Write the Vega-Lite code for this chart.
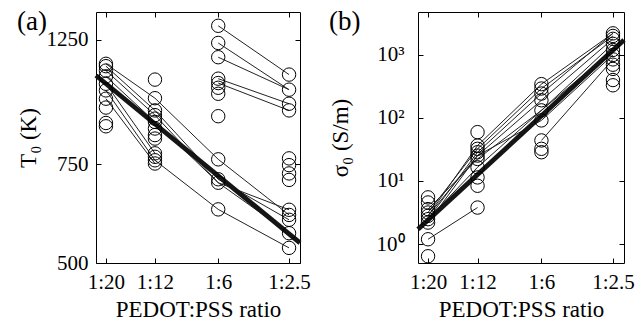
{
  "$schema": "https://vega.github.io/schema/vega-lite/v6.json",
  "background": "white",
  "padding": {"left": 16, "top": 7, "right": 0, "bottom": 0},
  "spacing": 17,
  "config": {
    "font": "Liberation Serif, Times New Roman, serif",
    "view": {"stroke": "black", "strokeWidth": 1},
    "axis": {
      "labelFont": "Liberation Serif, Times New Roman, serif", "labelFontSize": 21, "labelColor": "black",
      "titleFont": "Liberation Serif, Times New Roman, serif", "titleFontSize": 23, "titleFontWeight": "normal", "titleColor": "black",
      "grid": false, "domain": false, "tickColor": "black", "tickSize": -5, "labelPadding": 13,
      "labelFlush": false, "labelOverlap": false, "titlePadding": 6
    },
    "title": {"font": "Liberation Serif, Times New Roman, serif", "fontSize": 27, "fontWeight": "normal", "anchor": "start", "frame": "bounds", "color": "black"}
  },
  "datasets": {
    "a_pts": [
      {"ratio": "1:20", "x": 0.047619, "T0": 1132}, {"ratio": "1:20", "x": 0.047619, "T0": 1121}, {"ratio": "1:20", "x": 0.047619, "T0": 1101},
      {"ratio": "1:20", "x": 0.047619, "T0": 1075}, {"ratio": "1:20", "x": 0.047619, "T0": 1043}, {"ratio": "1:20", "x": 0.047619, "T0": 1015},
      {"ratio": "1:20", "x": 0.047619, "T0": 981}, {"ratio": "1:20", "x": 0.047619, "T0": 946}, {"ratio": "1:20", "x": 0.047619, "T0": 888},
      {"ratio": "1:20", "x": 0.047619, "T0": 876},
      {"ratio": "1:12", "x": 0.076923, "T0": 1061}, {"ratio": "1:12", "x": 0.076923, "T0": 983}, {"ratio": "1:12", "x": 0.076923, "T0": 935},
      {"ratio": "1:12", "x": 0.076923, "T0": 917}, {"ratio": "1:12", "x": 0.076923, "T0": 904}, {"ratio": "1:12", "x": 0.076923, "T0": 892},
      {"ratio": "1:12", "x": 0.076923, "T0": 868}, {"ratio": "1:12", "x": 0.076923, "T0": 845}, {"ratio": "1:12", "x": 0.076923, "T0": 833},
      {"ratio": "1:12", "x": 0.076923, "T0": 784}, {"ratio": "1:12", "x": 0.076923, "T0": 773}, {"ratio": "1:12", "x": 0.076923, "T0": 762},
      {"ratio": "1:12", "x": 0.076923, "T0": 752},
      {"ratio": "1:6", "x": 0.142857, "T0": 1323}, {"ratio": "1:6", "x": 0.142857, "T0": 1233}, {"ratio": "1:6", "x": 0.142857, "T0": 1163},
      {"ratio": "1:6", "x": 0.142857, "T0": 1065}, {"ratio": "1:6", "x": 0.142857, "T0": 1046}, {"ratio": "1:6", "x": 0.142857, "T0": 1026},
      {"ratio": "1:6", "x": 0.142857, "T0": 1001}, {"ratio": "1:6", "x": 0.142857, "T0": 913}, {"ratio": "1:6", "x": 0.142857, "T0": 765},
      {"ratio": "1:6", "x": 0.142857, "T0": 705}, {"ratio": "1:6", "x": 0.142857, "T0": 695}, {"ratio": "1:6", "x": 0.142857, "T0": 623},
      {"ratio": "1:2.5", "x": 0.285714, "T0": 1083}, {"ratio": "1:2.5", "x": 0.285714, "T0": 1018}, {"ratio": "1:2.5", "x": 0.285714, "T0": 961},
      {"ratio": "1:2.5", "x": 0.285714, "T0": 935}, {"ratio": "1:2.5", "x": 0.285714, "T0": 768}, {"ratio": "1:2.5", "x": 0.285714, "T0": 747},
      {"ratio": "1:2.5", "x": 0.285714, "T0": 722}, {"ratio": "1:2.5", "x": 0.285714, "T0": 703}, {"ratio": "1:2.5", "x": 0.285714, "T0": 622},
      {"ratio": "1:2.5", "x": 0.285714, "T0": 609}, {"ratio": "1:2.5", "x": 0.285714, "T0": 597}, {"ratio": "1:2.5", "x": 0.285714, "T0": 565},
      {"ratio": "1:2.5", "x": 0.285714, "T0": 532}
    ],
    "a_lines": [
      {"series": "L1", "x": 0.047619, "T0": 1132}, {"series": "L1", "x": 0.076923, "T0": 983}, {"series": "L1", "x": 0.142857, "T0": 765}, {"series": "L1", "x": 0.285714, "T0": 609},
      {"series": "L2", "x": 0.047619, "T0": 1121}, {"series": "L2", "x": 0.076923, "T0": 935}, {"series": "L2", "x": 0.142857, "T0": 705}, {"series": "L2", "x": 0.285714, "T0": 597},
      {"series": "L3", "x": 0.047619, "T0": 1101}, {"series": "L3", "x": 0.076923, "T0": 917}, {"series": "L3", "x": 0.142857, "T0": 695}, {"series": "L3", "x": 0.285714, "T0": 565},
      {"series": "L4", "x": 0.047619, "T0": 1075}, {"series": "L4", "x": 0.076923, "T0": 892}, {"series": "L4", "x": 0.142857, "T0": 695}, {"series": "L4", "x": 0.285714, "T0": 622},
      {"series": "L5", "x": 0.047619, "T0": 1043}, {"series": "L5", "x": 0.076923, "T0": 784},
      {"series": "L6", "x": 0.047619, "T0": 1015}, {"series": "L6", "x": 0.076923, "T0": 762}, {"series": "L6", "x": 0.142857, "T0": 623}, {"series": "L6", "x": 0.285714, "T0": 532},
      {"series": "L7", "x": 0.047619, "T0": 981}, {"series": "L7", "x": 0.076923, "T0": 752},
      {"series": "L8", "x": 0.142857, "T0": 1323}, {"series": "L8", "x": 0.285714, "T0": 1083},
      {"series": "L9", "x": 0.142857, "T0": 1233}, {"series": "L9", "x": 0.285714, "T0": 1018},
      {"series": "L10", "x": 0.142857, "T0": 1163}, {"series": "L10", "x": 0.285714, "T0": 1018},
      {"series": "L11", "x": 0.142857, "T0": 1065}, {"series": "L11", "x": 0.285714, "T0": 961},
      {"series": "L12", "x": 0.142857, "T0": 1046}, {"series": "L12", "x": 0.285714, "T0": 935}
    ],
    "a_fit": [{"x": 0.0432, "T0": 1079}, {"x": 0.318, "T0": 543}],
    "b_pts": [
      {"ratio": "1:20", "x": 0.047619, "sigma0": 5.5}, {"ratio": "1:20", "x": 0.047619, "sigma0": 4.56}, {"ratio": "1:20", "x": 0.047619, "sigma0": 3.58},
      {"ratio": "1:20", "x": 0.047619, "sigma0": 3.16}, {"ratio": "1:20", "x": 0.047619, "sigma0": 2.8}, {"ratio": "1:20", "x": 0.047619, "sigma0": 2.48},
      {"ratio": "1:20", "x": 0.047619, "sigma0": 2.19}, {"ratio": "1:20", "x": 0.047619, "sigma0": 1.19}, {"ratio": "1:20", "x": 0.047619, "sigma0": 0.64},
      {"ratio": "1:12", "x": 0.076923, "sigma0": 59.6}, {"ratio": "1:12", "x": 0.076923, "sigma0": 36.5}, {"ratio": "1:12", "x": 0.076923, "sigma0": 32.4},
      {"ratio": "1:12", "x": 0.076923, "sigma0": 28.6}, {"ratio": "1:12", "x": 0.076923, "sigma0": 25.3}, {"ratio": "1:12", "x": 0.076923, "sigma0": 22.4},
      {"ratio": "1:12", "x": 0.076923, "sigma0": 16.5}, {"ratio": "1:12", "x": 0.076923, "sigma0": 11.4}, {"ratio": "1:12", "x": 0.076923, "sigma0": 8.4},
      {"ratio": "1:12", "x": 0.076923, "sigma0": 3.79},
      {"ratio": "1:6", "x": 0.142857, "sigma0": 344}, {"ratio": "1:6", "x": 0.142857, "sigma0": 293}, {"ratio": "1:6", "x": 0.142857, "sigma0": 244},
      {"ratio": "1:6", "x": 0.142857, "sigma0": 191}, {"ratio": "1:6", "x": 0.142857, "sigma0": 132}, {"ratio": "1:6", "x": 0.142857, "sigma0": 91.5},
      {"ratio": "1:6", "x": 0.142857, "sigma0": 44}, {"ratio": "1:6", "x": 0.142857, "sigma0": 32.4}, {"ratio": "1:6", "x": 0.142857, "sigma0": 28.6},
      {"ratio": "1:2.5", "x": 0.285714, "sigma0": 2200}, {"ratio": "1:2.5", "x": 0.285714, "sigma0": 2000}, {"ratio": "1:2.5", "x": 0.285714, "sigma0": 1800},
      {"ratio": "1:2.5", "x": 0.285714, "sigma0": 1500}, {"ratio": "1:2.5", "x": 0.285714, "sigma0": 1200}, {"ratio": "1:2.5", "x": 0.285714, "sigma0": 1000},
      {"ratio": "1:2.5", "x": 0.285714, "sigma0": 850}, {"ratio": "1:2.5", "x": 0.285714, "sigma0": 700}, {"ratio": "1:2.5", "x": 0.285714, "sigma0": 600},
      {"ratio": "1:2.5", "x": 0.285714, "sigma0": 400}, {"ratio": "1:2.5", "x": 0.285714, "sigma0": 330}
    ],
    "b_lines": [
      {"series": "B1", "x": 0.047619, "sigma0": 2.8}, {"series": "B1", "x": 0.076923, "sigma0": 36.5}, {"series": "B1", "x": 0.142857, "sigma0": 344}, {"series": "B1", "x": 0.285714, "sigma0": 2200},
      {"series": "B2", "x": 0.047619, "sigma0": 3.16}, {"series": "B2", "x": 0.076923, "sigma0": 32.4}, {"series": "B2", "x": 0.142857, "sigma0": 293}, {"series": "B2", "x": 0.285714, "sigma0": 2000},
      {"series": "B3", "x": 0.047619, "sigma0": 2.48}, {"series": "B3", "x": 0.076923, "sigma0": 28.6}, {"series": "B3", "x": 0.142857, "sigma0": 244}, {"series": "B3", "x": 0.285714, "sigma0": 2200},
      {"series": "B4", "x": 0.047619, "sigma0": 2.19}, {"series": "B4", "x": 0.076923, "sigma0": 25.3}, {"series": "B4", "x": 0.142857, "sigma0": 191}, {"series": "B4", "x": 0.285714, "sigma0": 1800},
      {"series": "B5", "x": 0.047619, "sigma0": 3.58}, {"series": "B5", "x": 0.076923, "sigma0": 22.4}, {"series": "B5", "x": 0.142857, "sigma0": 132}, {"series": "B5", "x": 0.285714, "sigma0": 1500},
      {"series": "B6", "x": 0.047619, "sigma0": 2.48}, {"series": "B6", "x": 0.076923, "sigma0": 16.5}, {"series": "B6", "x": 0.142857, "sigma0": 132}, {"series": "B6", "x": 0.285714, "sigma0": 1200},
      {"series": "B7", "x": 0.047619, "sigma0": 2.8}, {"series": "B7", "x": 0.076923, "sigma0": 25.3}, {"series": "B7", "x": 0.142857, "sigma0": 91.5}, {"series": "B7", "x": 0.285714, "sigma0": 1000},
      {"series": "B8", "x": 0.047619, "sigma0": 1.19}, {"series": "B8", "x": 0.076923, "sigma0": 3.79},
      {"series": "B9", "x": 0.142857, "sigma0": 44}, {"series": "B9", "x": 0.285714, "sigma0": 850}
    ],
    "b_fit": [{"x": 0.0432, "sigma0": 1.72}, {"x": 0.318, "sigma0": 1730}]
  },
  "hconcat": [
    {
      "title": {"text": "(a)", "dy": 28},
      "width": 204,
      "height": 251,
      "layer": [
        {
          "data": {"name": "a_lines"},
          "mark": {"type": "line", "strokeWidth": 1, "color": "#222222"},
          "encoding": {
            "x": {"field": "x", "type": "quantitative", "scale": {"type": "log", "domain": [0.0432, 0.318], "nice": false},
                  "axis": {"orient": "bottom", "values": [0.047619, 0.076923, 0.142857, 0.285714], "title": "PEDOT:PSS ratio",
                           "labelExpr": "datum.value < 0.06 ? '1:20' : datum.value < 0.1 ? '1:12' : datum.value < 0.2 ? '1:6' : '1:2.5'"}},
            "y": {"field": "T0", "type": "quantitative", "scale": {"type": "log", "domain": [500, 1400], "nice": false},
                  "axis": {"orient": "left", "values": [500, 750, 1250], "title": "T₀ (K)", "format": "d"}},
            "detail": {"field": "series"},
            "order": {"field": "x"}
          }
        },
        {
          "data": {"name": "a_fit"},
          "mark": {"type": "line", "strokeWidth": 4.8, "color": "#151515"},
          "encoding": {
            "x": {"field": "x", "type": "quantitative", "scale": {"type": "log", "domain": [0.0432, 0.318], "nice": false}, "axis": null},
            "y": {"field": "T0", "type": "quantitative", "scale": {"type": "log", "domain": [500, 1400], "nice": false}, "axis": null}
          }
        },
        {
          "data": {"name": "a_pts"},
          "mark": {"type": "point", "shape": "circle", "filled": false, "size": 180, "color": "black", "strokeWidth": 1, "opacity": 1},
          "encoding": {
            "x": {"field": "x", "type": "quantitative", "scale": {"type": "log", "domain": [0.0432, 0.318], "nice": false},
                  "axis": {"orient": "top", "values": [0.047619, 0.076923, 0.142857, 0.285714], "labels": false, "title": null}},
            "y": {"field": "T0", "type": "quantitative", "scale": {"type": "log", "domain": [500, 1400], "nice": false},
                  "axis": {"orient": "right", "values": [500, 750, 1250], "labels": false, "title": null}}
          }
        }
      ],
      "resolve": {"axis": {"x": "independent", "y": "independent"}}
    },
    {
      "title": {"text": "(b)", "dy": 28},
      "width": 206,
      "height": 251,
      "layer": [
        {
          "data": {"name": "b_lines"},
          "mark": {"type": "line", "strokeWidth": 1, "color": "#222222"},
          "encoding": {
            "x": {"field": "x", "type": "quantitative", "scale": {"type": "log", "domain": [0.0432, 0.318], "nice": false},
                  "axis": {"orient": "bottom", "values": [0.047619, 0.076923, 0.142857, 0.285714], "title": "PEDOT:PSS ratio",
                           "labelExpr": "datum.value < 0.06 ? '1:20' : datum.value < 0.1 ? '1:12' : datum.value < 0.2 ? '1:6' : '1:2.5'"}},
            "y": {"field": "sigma0", "type": "quantitative", "scale": {"type": "log", "domain": [0.5, 4800], "nice": false},
                  "axis": {"orient": "left", "values": [1, 10, 100, 1000], "title": "σ₀ (S/m)", "titlePadding": 24, "labelPadding": 19,
                           "labelExpr": "datum.value < 5 ? '10⁰' : datum.value < 50 ? '10¹' : datum.value < 500 ? '10²' : '10³'"}},
            "detail": {"field": "series"},
            "order": {"field": "x"}
          }
        },
        {
          "data": {"name": "b_fit"},
          "mark": {"type": "line", "strokeWidth": 4.8, "color": "#151515"},
          "encoding": {
            "x": {"field": "x", "type": "quantitative", "scale": {"type": "log", "domain": [0.0432, 0.318], "nice": false}, "axis": null},
            "y": {"field": "sigma0", "type": "quantitative", "scale": {"type": "log", "domain": [0.5, 4800], "nice": false}, "axis": null}
          }
        },
        {
          "data": {"name": "b_pts"},
          "mark": {"type": "point", "shape": "circle", "filled": false, "size": 180, "color": "black", "strokeWidth": 1, "opacity": 1},
          "encoding": {
            "x": {"field": "x", "type": "quantitative", "scale": {"type": "log", "domain": [0.0432, 0.318], "nice": false},
                  "axis": {"orient": "top", "values": [0.047619, 0.076923, 0.142857, 0.285714], "labels": false, "title": null}},
            "y": {"field": "sigma0", "type": "quantitative", "scale": {"type": "log", "domain": [0.5, 4800], "nice": false},
                  "axis": {"orient": "right", "values": [1, 10, 100, 1000], "labels": false, "title": null}}
          }
        }
      ],
      "resolve": {"axis": {"x": "independent", "y": "independent"}}
    }
  ]
}
